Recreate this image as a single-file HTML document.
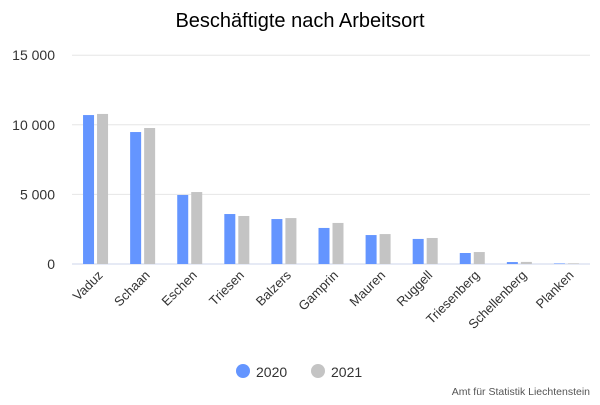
<!DOCTYPE html>
<html><head><meta charset="utf-8"><style>
body{margin:0;background:#fff;font-family:"Liberation Sans",sans-serif}
</style></head><body>
<svg id="chart" width="600" height="400" xmlns="http://www.w3.org/2000/svg">
<text x="300" y="27" text-anchor="middle" font-size="20" font-weight="500" fill="#000">Beschäftigte nach Arbeitsort</text>
<g id="grid"></g><g id="bars"></g><g id="xlabels"></g>
<g>
<circle cx="243" cy="371" r="7" fill="#6495ff"/>
<text x="256" y="377" font-size="14" fill="#333">2020</text>
<circle cx="318" cy="371" r="7" fill="#c4c4c4"/>
<text x="331" y="377" font-size="14" fill="#333">2021</text>
</g>
<text x="590" y="395" text-anchor="end" font-size="10.5" fill="#555">Amt für Statistik Liechtenstein</text>
</svg>
<script>
const categories=["Vaduz","Schaan","Eschen","Triesen","Balzers","Gamprin","Mauren","Ruggell","Triesenberg","Schellenberg","Planken"];
const values2020=[10700,9480,4960,3590,3230,2590,2080,1800,790,140,40];
const values2021=[10780,9770,5170,3450,3300,2950,2150,1870,860,150,50];
const yTicks=[0,5000,10000,15000];
const yTickLabels=["0","5 000","10 000","15 000"];
const NS="http://www.w3.org/2000/svg";
const plotL=72,plotR=590,y0=264,pxPer=69.6/5000;
const y=v=>y0-v*pxPer;
const step=(plotR-plotL)/categories.length;
const cx=i=>plotL+step*(i+0.5);
function mk(t,a,p){const e=document.createElementNS(NS,t);for(const k in a)e.setAttribute(k,a[k]);p.appendChild(e);return e;}
const grid=document.getElementById('grid'),bars=document.getElementById('bars'),xl=document.getElementById('xlabels');
yTicks.forEach((t,i)=>{
  const l=mk('line',{x1:plotL,x2:plotR,y1:y(t),y2:y(t),stroke:i===0?'#ccd6eb':'#e6e6e6','stroke-width':1},grid);
  
  
  const tx=mk('text',{x:55,y:y(t)+5,'text-anchor':'end','font-size':14,fill:'#333'},grid);
  tx.textContent=yTickLabels[i];
  
  
});
categories.forEach((c,i)=>{
  const w=11;
  const b1=mk('rect',{x:cx(i)-w-1.5,y:y(values2020[i]),width:w,height:values2020[i]*pxPer,fill:'#6495ff'},bars);
  
  
  const b2=mk('rect',{x:cx(i)+1.5,y:y(values2021[i]),width:w,height:values2021[i]*pxPer,fill:'#c4c4c4'},bars);
  
  
  const lx=cx(i)+8;
  const t=mk('text',{x:lx,y:276,'text-anchor':'end','font-size':13,fill:'#333',transform:`rotate(-45 ${lx} 276)`},xl);
  t.textContent=c;
  
  
});
</script>
</body></html>
